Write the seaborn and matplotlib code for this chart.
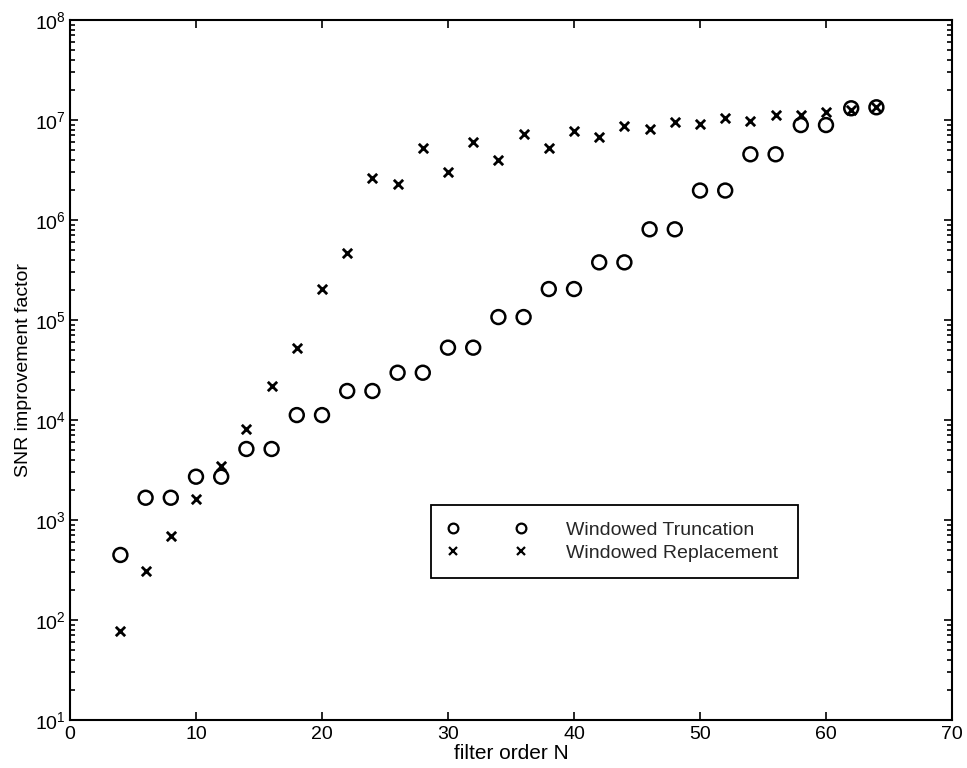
import matplotlib
matplotlib.use("Agg")
import matplotlib.pyplot as plt
import matplotlib.ticker as mticker
from matplotlib.lines import Line2D
import seaborn as sns
import pandas as pd
import numpy as np

# Data
filter_order = [4, 6, 8, 10, 12, 14, 16, 18, 20, 22, 24, 26, 28, 30, 32, 34,
                36, 38, 40, 42, 44, 46, 48, 50, 52, 54, 56, 58, 60, 62, 64]
truncation = [447, 1670, 1670, 2710, 2710, 5130, 5130, 11200, 11200, 19500, 19500,
              29700, 29700, 52900, 52900, 107000, 107000, 204000, 204000,
              377000, 377000, 807000, 807000, 1.97e6, 1.97e6, 4.54e6, 4.54e6,
              8.9e6, 8.9e6, 1.31e7, 1.34e7]
replacement = [78, 309, 697, 1610, 3500, 8070, 21900, 52900, 203000, 464000,
               2.61e6, 2.27e6, 5.3e6, 3.04e6, 5.98e6, 3.98e6, 7.19e6, 5.29e6,
               7.82e6, 6.81e6, 8.71e6, 8.07e6, 9.48e6, 9.1e6, 1.04e7, 9.7e6,
               1.11e7, 1.12e7, 1.2e7, 1.26e7, 1.34e7]
x_ticks = [0, 10, 20, 30, 40, 50, 60, 70]
y_exponents = [1, 2, 3, 4, 5, 6, 7, 8]
series_names = ["Windowed Truncation", "Windowed Replacement"]
x_label = "filter order N"
y_label = "SNR improvement factor"

df = pd.DataFrame({"N": filter_order, "trunc": truncation, "repl": replacement})

sns.set_theme(style="ticks")
plt.rcParams["font.family"] = ["Liberation Sans", "DejaVu Sans"]
plt.rcParams["mathtext.fontset"] = "custom"
plt.rcParams["mathtext.rm"] = "Liberation Sans"
plt.rcParams["mathtext.it"] = "Liberation Sans"

fig = plt.figure(figsize=(9.67, 7.68), dpi=100)
ax = fig.add_axes([70 / 967, 1 - 720 / 768, 882 / 967, 700 / 768])

sns.scatterplot(data=df, x="N", y="trunc", ax=ax, marker="o", s=100,
                facecolors="none", edgecolor="black", linewidth=1.8, legend=False)
sns.scatterplot(data=df, x="N", y="repl", ax=ax, marker="x", s=45,
                color="black", linewidth=2.0, legend=False)

ax.set_yscale("log")
ax.set_xlim(x_ticks[0], x_ticks[-1])
ax.set_ylim(10.0 ** y_exponents[0], 10.0 ** y_exponents[-1])
ax.set_xticks(x_ticks)
ax.set_xticklabels([str(t) for t in x_ticks])
ax.set_yticks([10.0 ** e for e in y_exponents])
ax.set_yticklabels([r"$\mathregular{10^{%d}}$" % e for e in y_exponents])
minor = [m * 10.0 ** e for e in y_exponents[:-1] for m in range(2, 10)]
ax.set_yticks(minor, minor=True)
ax.set_yticklabels([], minor=True)

ax.tick_params(axis="both", which="both", direction="in", top=True, right=True,
               colors="black", labelsize=14, width=1.2)
ax.tick_params(axis="both", which="major", length=6)
ax.tick_params(axis="both", which="minor", length=3.5)
ax.tick_params(axis="x", pad=4)
ax.tick_params(axis="y", pad=3)
for sp in ax.spines.values():
    sp.set_linewidth(1.5)
    sp.set_color("black")

ax.set_xlabel(x_label, fontsize=15, color="black", labelpad=1)
ax.set_ylabel(y_label, fontsize=14, color="black", labelpad=2)

handles = [
    Line2D([], [], linestyle="none", marker="o", markersize=7, markerfacecolor="none",
           markeredgecolor="black", markeredgewidth=1.6),
    Line2D([], [], linestyle="none", marker="x", markersize=5.5, color="black",
           markeredgewidth=1.6),
]
leg = ax.legend(handles, series_names, loc="upper left",
                bbox_to_anchor=(0.409, 0.307, 0.416, 0.0), mode="expand",
                numpoints=2, handlelength=4.1, handletextpad=2.0, borderaxespad=0,
                fontsize=14, frameon=True, fancybox=False, framealpha=1,
                edgecolor="black", borderpad=0.85, labelspacing=0.25)
leg.get_frame().set_linewidth(1.3)

fig.savefig("out.png", dpi=100, facecolor="white")
